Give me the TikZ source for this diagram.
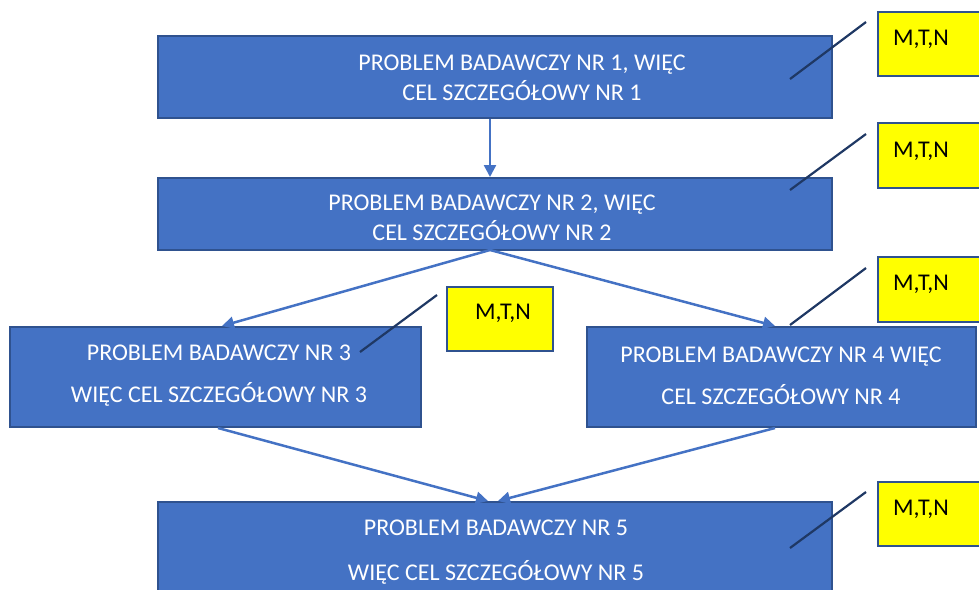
\documentclass[tikz,border=0pt]{standalone}
\usepackage{fontspec}
\setmainfont{Carlito}
\usetikzlibrary{arrows.meta}
\definecolor{boxblue}{HTML}{4472C4}
\definecolor{boxedge}{HTML}{2F528F}
\definecolor{navy}{HTML}{1F3864}
\definecolor{yel}{HTML}{FFFF00}
\tikzset{
  bluebox/.style={draw=boxedge, fill=boxblue, line width=2pt, rectangle, inner sep=0pt},
  yelbox/.style={draw=boxedge, fill=yel, line width=2pt, rectangle, inner sep=0pt},
  boxtext/.style={text=white, align=center, inner sep=0pt, font=\fontsize{24}{30}\selectfont},
  yeltext/.style={text=black, inner sep=0pt, font=\fontsize{24}{30}\selectfont},
  flow/.style={draw=boxblue, line width=2.5pt, -{Triangle[width=12pt,length=12pt]}},
  note/.style={draw=navy, line width=2.2pt}
}
\begin{document}
\begin{tikzpicture}[x=1pt,y=-1pt]
\useasboundingbox (0,0) rectangle (979,589);
\clip (0,0) rectangle (979,589);
% blue boxes
\node[bluebox, minimum width=674pt, minimum height=82pt] (b1) at (495,77) {};
\node[bluebox, minimum width=674pt, minimum height=72pt] (b2) at (495,214) {};
\node[bluebox, minimum width=411pt, minimum height=100pt] (b3) at (215.5,377) {};
\node[bluebox, minimum width=389pt, minimum height=100pt] (b4) at (781.5,377) {};
\node[bluebox, minimum width=674pt, minimum height=110pt] (b5) at (495,557) {};
% texts
\node[boxtext] (t1) at (522,78) {PROBLEM BADAWCZY NR 1, WIĘC\\CEL SZCZEGÓŁOWY NR 1};
\node[boxtext] (t2) at (492,218) {PROBLEM BADAWCZY NR 2, WIĘC\\CEL SZCZEGÓŁOWY NR 2};
\node[boxtext, font=\fontsize{24}{42}\selectfont] (t3) at (219,376) {PROBLEM BADAWCZY NR 3\\WIĘC CEL SZCZEGÓŁOWY NR 3};
\node[boxtext, font=\fontsize{24}{42}\selectfont] (t4) at (781,376) {PROBLEM BADAWCZY NR 4 WIĘC\\CEL SZCZEGÓŁOWY NR 4};
\node[boxtext, font=\fontsize{24}{45}\selectfont] (t5) at (496,552.5) {PROBLEM BADAWCZY NR 5\\WIĘC CEL SZCZEGÓŁOWY NR 5};
% yellow boxes
\node[yelbox, minimum width=112pt, minimum height=64pt] (y1) at (934,44) {};
\node[yelbox, minimum width=112pt, minimum height=65pt] (y2) at (934,155.5) {};
\node[yelbox, minimum width=106pt, minimum height=64pt] (y3) at (500,318.5) {};
\node[yelbox, minimum width=112pt, minimum height=65pt] (y4) at (934,289.5) {};
\node[yelbox, minimum width=112pt, minimum height=64pt] (y5) at (934,514) {};
\node[yeltext] (m1) at (921,39) {M,T,N};
\node[yeltext] (m2) at (921,151) {M,T,N};
\node[yeltext] (m3) at (503,313) {M,T,N};
\node[yeltext] (m4) at (921,284) {M,T,N};
\node[yeltext] (m5) at (921,509) {M,T,N};
% note lines
\coordinate (n1a) at (790,79);  \coordinate (n1b) at (866,22);
\coordinate (n2a) at (790,190); \coordinate (n2b) at (866,134);
\coordinate (n3a) at (360,352); \coordinate (n3b) at (437,295);
\coordinate (n4a) at (790,325); \coordinate (n4b) at (866,268);
\coordinate (n5a) at (790,548); \coordinate (n5b) at (866,492);
\draw[note] (n1a) -- (n1b);
\draw[note] (n2a) -- (n2b);
\draw[note] (n3a) -- (n3b);
\draw[note] (n4a) -- (n4b);
\draw[note] (n5a) -- (n5b);
% flow arrows
\draw[flow] (b1.south -| 490,0) -- (b2.north -| 490,0);
\draw[flow] (490,250) -- (b3.north -| 222,0);
\draw[flow] (490,250) -- (b4.north -| 775,0);
\draw[flow] (b3.south -| 218,0) -- (b5.north -| 488,0);
\draw[flow] (b4.south -| 775,0) -- (b5.north -| 498,0);
\end{tikzpicture}
\end{document}
